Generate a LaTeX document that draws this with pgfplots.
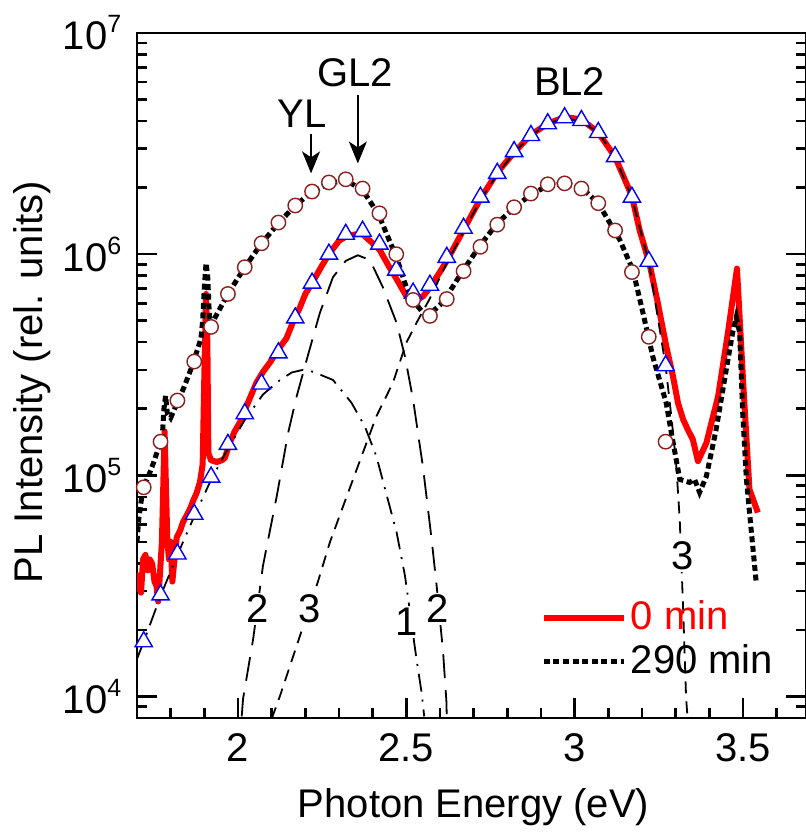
\documentclass[border=0pt]{standalone}
\usepackage{fontspec}
\setmainfont{Liberation Sans}
\usepackage{pgfplots}
\pgfplotsset{compat=1.18}
\usetikzlibrary{arrows.meta}
\newcommand\tp[1]{10\raisebox{0.42em}{\fontsize{12.5bp}{12.5bp}\selectfont #1}}
\definecolor{circ}{RGB}{140,30,30}
\newcommand\bigf{\fontsize{20bp}{24bp}\selectfont}
\begin{document}
\bigf
\begin{tikzpicture}
\begin{axis}[
 scale only axis, width=334.5bp, height=342.5bp,
 ymode=log, xmin=1.7, xmax=3.687, ymin=8e3, ymax=1e7,
 axis line style={line width=1.3bp},
 every tick/.style={black, line width=1.3bp},
 tick align=inside, xtick pos=bottom, ytick pos=both,
 major tick length=10bp, minor tick length=5bp,
 xtick={2,2.5,3,3.5}, xticklabels={2,2.5,3,3.5},
 minor xtick={1.8,1.9,2.1,2.2,2.3,2.4,2.6,2.7,2.8,2.9,3.1,3.2,3.3,3.4,3.6},
 ytick={1e4,1e5,1e6,1e7}, yticklabels={\tp{4},\tp{5},\tp{6},\tp{7}},
 minor ytick={9e3,2e4,3e4,4e4,5e4,6e4,7e4,8e4,9e4,2e5,3e5,4e5,5e5,6e5,7e5,8e5,9e5,2e6,3e6,4e6,5e6,6e6,7e6,8e6,9e6},
 tick label style={font=\bigf},
 xticklabel style={yshift=-1bp},
 yticklabel style={xshift=-1bp},
 xlabel={Photon Energy (eV)}, ylabel={PL Intensity (rel. units)},
 xlabel style={at={(axis description cs:0.503,-0.13)}, anchor=center, font=\bigf},
 ylabel style={at={(axis description cs:-0.157,0.49)}, anchor=center, font=\bigf},
 legend style={at={(axis description cs:0.603,0.178)}, anchor=north west, draw=none, fill=none, inner sep=0pt, font=\bigf, row sep=0.5bp},
 legend cell align=left,
 legend image code/.code={\draw[#1] (0bp,0bp) -- (40bp,0bp);},
]
% 0 min
\addplot[red, line width=3bp, line join=round] coordinates {
(1.700,3.63e4) (1.705,3.16e4) (1.712,2.95e4) (1.718,4.17e4) (1.725,4.37e4) (1.732,3.72e4)
(1.738,4.17e4) (1.745,3.98e4) (1.752,3.31e4) (1.758,3.16e4) (1.763,2.69e4) (1.768,3.55e4)
(1.774,5.01e4) (1.778,8.91e4) (1.782,1.58e5) (1.786,8.91e4) (1.790,5.13e4) (1.795,4.17e4)
(1.800,5.01e4) (1.805,3.31e4) (1.810,3.98e4) (1.818,5.25e4) (1.828,5.62e4) (1.837,6.17e4)
(1.848,6.61e4) (1.858,7.08e4) (1.868,7.76e4) (1.877,8.32e4) (1.887,9.33e4) (1.895,1.12e5)
(1.900,2.82e5) (1.905,6.61e5) (1.909,3.98e5) (1.912,1.26e5) (1.920,1.17e5) (1.937,1.15e5)
(1.952,1.17e5) (1.961,1.20e5) (1.976,1.41e5) (1.990,1.58e5) (2.006,1.74e5) (2.030,2.14e5)
(2.055,2.63e5) (2.075,2.95e5) (2.095,3.24e5) (2.120,3.72e5) (2.144,4.17e5) (2.165,5.01e5)
(2.184,5.75e5) (2.200,6.61e5) (2.220,7.41e5) (2.250,8.91e5) (2.270,1.00e6) (2.300,1.15e6)
(2.320,1.20e6) (2.350,1.23e6) (2.370,1.23e6) (2.400,1.12e6) (2.420,1.05e6) (2.450,8.71e5)
(2.470,7.76e5) (2.500,6.46e5) (2.515,6.10e5) (2.530,6.17e5) (2.550,6.46e5) (2.570,7.08e5)
(2.600,8.32e5) (2.620,9.33e5) (2.670,1.29e6) (2.720,1.78e6) (2.770,2.34e6) (2.820,2.88e6)
(2.870,3.47e6) (2.920,3.89e6) (2.970,4.17e6) (3.020,4.07e6) (3.070,3.55e6) (3.120,2.75e6)
(3.170,1.83e6) (3.193,1.28e6) (3.222,9.08e5) (3.247,6.00e5) (3.272,3.83e5) (3.292,2.80e5)
(3.307,2.12e5) (3.322,1.79e5) (3.336,1.61e5) (3.351,1.45e5) (3.366,1.16e5) (3.391,1.40e5)
(3.426,2.28e5) (3.455,4.40e5) (3.482,8.61e5) (3.500,2.70e5) (3.519,8.65e4) (3.544,6.79e4)
};
\addlegendentry{\textcolor{red}{0 min}}
% 290 min
\addplot[black, line width=2.5bp, dash pattern=on 3bp off 1.8bp] coordinates {
(1.700,5.01e4) (1.705,6.31e4) (1.712,7.59e4) (1.720,8.91e4) (1.735,1.00e5) (1.750,1.15e5)
(1.765,1.35e5) (1.775,1.48e5) (1.780,2.00e5) (1.785,2.29e5) (1.790,1.91e5) (1.800,1.82e5)
(1.820,2.14e5) (1.840,2.51e5) (1.860,3.02e5) (1.880,3.72e5) (1.890,4.17e5) (1.895,5.01e5)
(1.900,7.08e5) (1.905,9.12e5) (1.910,7.94e5) (1.915,5.25e5) (1.920,4.79e5) (1.970,6.61e5)
(2.020,8.71e5) (2.070,1.12e6) (2.120,1.38e6) (2.170,1.66e6) (2.220,1.91e6) (2.270,2.09e6)
(2.320,2.16e6) (2.370,1.95e6) (2.400,1.66e6) (2.420,1.48e6) (2.450,1.15e6) (2.470,9.77e5)
(2.500,7.08e5) (2.520,6.17e5) (2.550,5.43e5) (2.570,5.37e5) (2.600,5.89e5) (2.620,6.46e5)
(2.670,8.51e5) (2.720,1.10e6) (2.770,1.38e6) (2.820,1.62e6) (2.870,1.86e6) (2.920,2.04e6)
(2.970,2.09e6) (3.020,2.00e6) (3.070,1.70e6) (3.134,1.16e6) (3.173,8.47e5) (3.203,5.41e5)
(3.232,3.44e5) (3.272,2.12e5) (3.287,1.56e5) (3.307,1.06e5) (3.312,9.59e4) (3.341,9.29e4)
(3.356,9.59e4) (3.371,8.38e4) (3.391,9.89e4) (3.420,1.61e5) (3.450,3.00e5) (3.469,4.41e5)
(3.480,5.20e5) (3.490,4.41e5) (3.499,1.92e5) (3.510,9.59e4) (3.524,5.71e4) (3.539,3.30e4)
};
\addlegendentry{290 min}
% component 1 (YL)
\addplot[black, line width=0.9bp, dash pattern=on 9bp off 4bp on 1bp off 4bp, forget plot] coordinates {
(1.700,1.48e4) (1.720,1.77e4) (1.770,2.85e4) (1.820,4.37e4) (1.870,6.53e4) (1.920,9.55e4)
(1.970,1.32e5) (2.020,1.78e5) (2.074,2.32e5) (2.125,2.70e5) (2.160,2.92e5) (2.193,3.00e5)
(2.223,2.94e5) (2.282,2.70e5) (2.337,2.13e5) (2.377,1.66e5) (2.411,1.22e5) (2.441,8.20e4)
(2.471,5.53e4) (2.496,3.51e4) (2.530,1.48e4) (2.545,1.05e4) (2.549,9.29e3) (2.553,8.13e3)
};
% component 2 (GL2)
\addplot[black, line width=0.9bp, dash pattern=on 12bp off 6bp, forget plot] coordinates {
(2.011,8.13e3) (2.015,9.77e3) (2.045,1.82e4) (2.074,3.89e4) (2.115,8.04e4) (2.149,1.56e5)
(2.174,2.27e5) (2.204,3.33e5) (2.243,5.42e5) (2.282,7.87e5) (2.320,9.33e5) (2.356,9.89e5)
(2.392,9.40e5) (2.430,7.10e5) (2.471,4.89e5) (2.496,3.44e5) (2.520,2.20e5) (2.549,1.10e5)
(2.575,5.15e4) (2.590,3.16e4) (2.609,1.60e4) (2.619,9.48e3) (2.620,8.13e3)
};
% component 3 (BL2)
\addplot[black, line width=0.9bp, dash pattern=on 6bp off 4bp, forget plot] coordinates {
(2.100,7.94e3) (2.125,1.01e4) (2.184,1.88e4) (2.238,3.33e4) (2.273,4.99e4) (2.323,8.04e4)
(2.367,1.22e5) (2.411,1.85e5) (2.460,2.62e5) (2.500,3.98e5) (2.530,4.89e5) (2.570,6.31e5)
(2.620,9.12e5) (2.670,1.26e6) (2.720,1.76e6) (2.770,2.29e6) (2.820,2.88e6) (2.870,3.43e6)
(2.920,3.89e6) (2.970,4.12e6) (3.020,3.98e6) (3.070,3.55e6) (3.120,2.75e6) (3.170,1.80e6)
(3.220,9.23e5) (3.270,3.13e5) (3.287,1.85e5) (3.301,1.15e5) (3.312,6.31e4) (3.322,2.51e4)
(3.331,9.77e3) (3.335,8.13e3)
};
% fit points 0 min
\addplot[only marks, mark=triangle*, mark size=5bp, mark options={draw=blue, fill=white, line width=0.7bp}, forget plot] coordinates {
(1.72,1.77e4) (1.77,2.88e4) (1.82,4.41e4) (1.87,6.67e4) (1.92,9.82e4) (1.97,1.38e5)
(2.02,1.90e5) (2.07,2.59e5) (2.12,3.58e5) (2.17,5.15e5) (2.22,7.40e5) (2.27,1.00e6)
(2.32,1.23e6) (2.37,1.27e6) (2.42,1.11e6) (2.47,8.47e5) (2.52,6.67e5) (2.57,7.24e5)
(2.62,9.68e5) (2.67,1.31e6) (2.72,1.81e6) (2.77,2.32e6) (2.82,2.91e6) (2.87,3.44e6)
(2.92,3.89e6) (2.97,4.14e6) (3.02,4.02e6) (3.07,3.55e6) (3.12,2.76e6) (3.17,1.81e6)
(3.22,9.29e5) (3.27,3.13e5)
};
% fit points 290 min
\addplot[only marks, mark=*, mark size=3.6bp, mark options={draw=circ, fill=white, line width=0.7bp}, forget plot] coordinates {
(1.72,8.83e4) (1.77,1.42e5) (1.82,2.18e5) (1.87,3.27e5) (1.92,4.69e5) (1.97,6.61e5)
(2.02,8.73e5) (2.07,1.12e6) (2.12,1.39e6) (2.17,1.66e6) (2.22,1.92e6) (2.27,2.11e6)
(2.32,2.18e6) (2.37,1.98e6) (2.42,1.53e6) (2.47,1.00e6) (2.52,6.21e5) (2.57,5.26e5)
(2.62,6.27e5) (2.67,8.38e5) (2.72,1.08e6) (2.77,1.36e6) (2.82,1.63e6) (2.87,1.88e6)
(2.92,2.07e6) (2.97,2.09e6) (3.02,1.98e6) (3.07,1.70e6) (3.12,1.28e6) (3.17,8.30e5)
(3.22,4.23e5) (3.27,1.42e5)
};
% annotations
\draw[line width=0.7bp, -{Stealth[length=11bp,width=9bp,inset=3bp]}] (axis cs:2.217,3.51e6) -- (axis cs:2.217,2.32e6);
\draw[line width=0.7bp, -{Stealth[length=11bp,width=9bp,inset=3bp]}] (axis cs:2.356,5.26e6) -- (axis cs:2.356,2.57e6);
\node[font=\bigf] at (axis cs:2.19,4.32e6) {YL};
\node[font=\bigf] at (axis cs:2.347,6.61e6) {GL2};
\node[font=\bigf] at (axis cs:2.985,6.03e6) {BL2};
\node[font=\bigf, fill=white, inner sep=1bp] at (axis cs:2.059,2.49e4) {2};
\node[font=\bigf, fill=white, inner sep=1bp] at (axis cs:2.214,2.49e4) {3};
\node[font=\bigf, fill=white, inner sep=1bp] at (axis cs:2.500,2.18e4) {1};
\node[font=\bigf, fill=white, inner sep=1bp] at (axis cs:2.594,2.49e4) {2};
\node[font=\bigf, fill=white, inner sep=1bp] at (axis cs:3.320,4.32e4) {3};
\end{axis}
\pgfresetboundingbox
\path[use as bounding box] ([xshift=-68.5bp,yshift=-57bp]current axis.south west) rectangle ([yshift=16.5bp]current axis.north east);
\end{tikzpicture}
\end{document}
